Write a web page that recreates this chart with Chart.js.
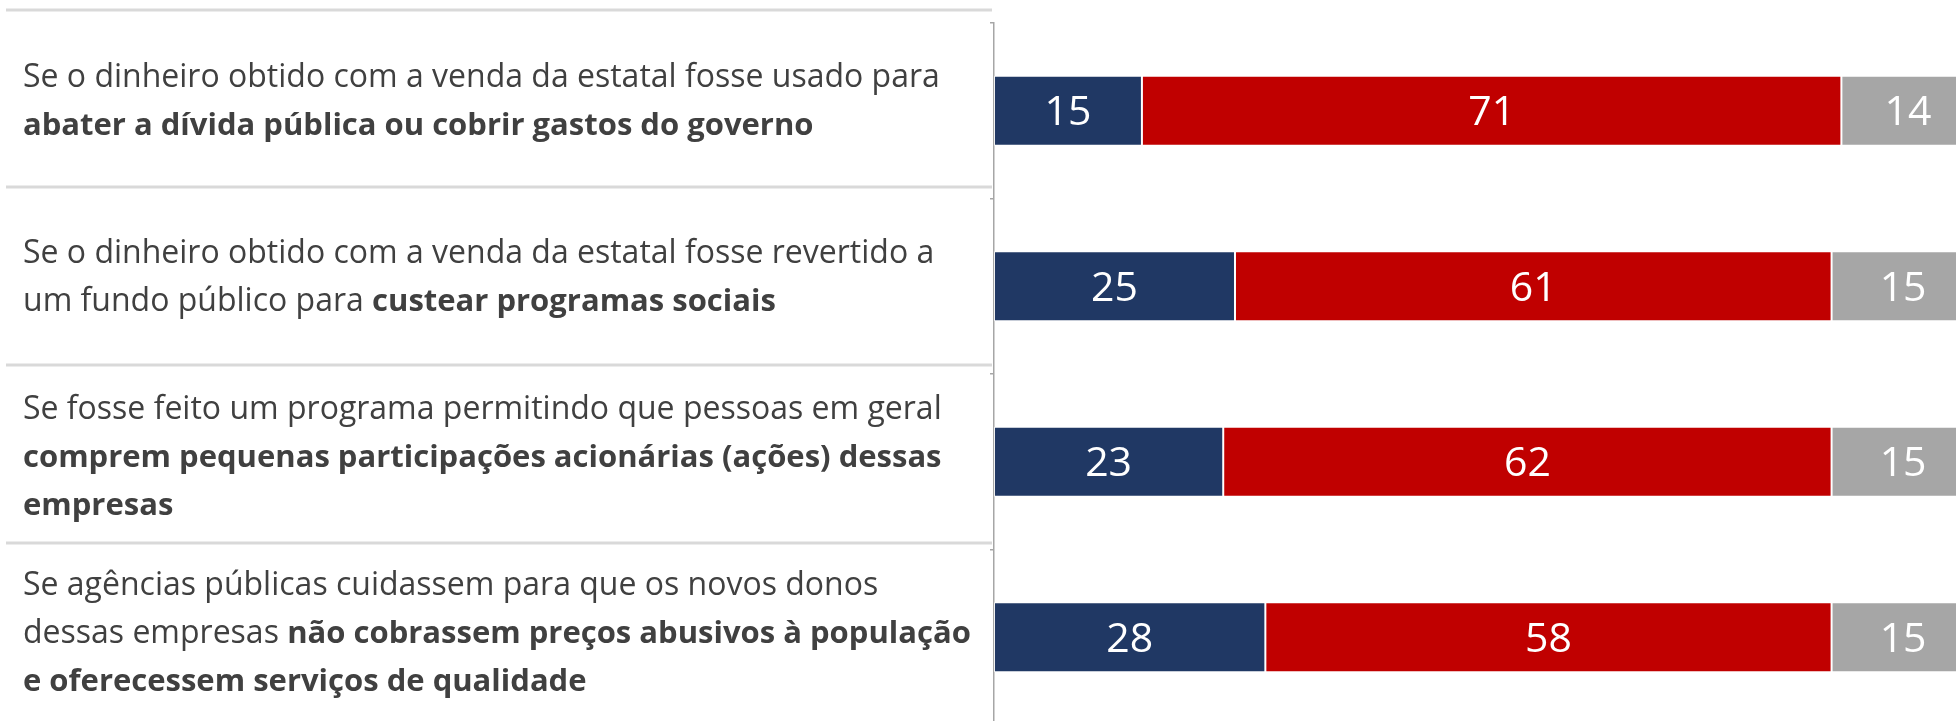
<!DOCTYPE html>
<html>
<head>
<meta charset="utf-8">
<script src="https://cdn.jsdelivr.net/npm/chart.js@4"></script>
<style>
  html, body { margin: 0; padding: 0; background: #fff; overflow: hidden; }
  #wrap { width: 1956px; height: 725px; position: relative; }
</style>
</head>
<body>
<div id="wrap"><canvas id="myChart"></canvas></div>
<script>
// QUESTIONS: each line is a list of [text, bold] pieces
const Questions = [
  [
    [['Se o dinheiro obtido com a venda da estatal fosse usado para', false]],
    [['abater a dívida pública ou cobrir gastos do governo', true]]
  ],
  [
    [['Se o dinheiro obtido com a venda da estatal fosse revertido a', false]],
    [['um fundo público para ', false], ['custear programas sociais', true]]
  ],
  [
    [['Se fosse feito um programa permitindo que pessoas em geral', false]],
    [['comprem pequenas participações acionárias (ações) dessas', true]],
    [['empresas', true]]
  ],
  [
    [['Se agências públicas cuidassem para que os novos donos', false]],
    [['dessas empresas ', false], ['não cobrassem preços abusivos à população', true]],
    [['e oferecessem serviços de qualidade', true]]
  ]
]

// SERIES (percent)
const Blue = [15.1, 24.6, 23.4, 27.7]
const Red = [71.4, 60.9, 62.1, 57.8]
const Gray = [13.6, 14.6, 14.6, 14.6]

const Labels = Questions.map(q => q.map(line => line.map(p => p[0]).join('')).join(' '))

const FONT = '"Open Sans", "Noto Sans", sans-serif'

// left side text + separator lines
const leftText = {
  id: 'leftText',
  afterDraw(chart) {
    const ctx = chart.ctx
    const sepY = [10, 187, 365, 543]
    const mids = [102, 278, 458, 634]
    const lineH = 48
    ctx.save()
    ctx.strokeStyle = '#d9d9d9'
    ctx.lineWidth = 3
    sepY.forEach(y => {
      ctx.beginPath()
      ctx.moveTo(6, y)
      ctx.lineTo(992, y)
      ctx.stroke()
    })
    ctx.fillStyle = '#404040'
    ctx.textBaseline = 'alphabetic'
    ctx.textAlign = 'left'
    Questions.forEach((q, i) => {
      const y0 = mids[i] - (q.length - 1) * lineH / 2
      q.forEach((line, j) => {
        let x = 23
        const y = y0 + j * lineH + 9
        line.forEach(([txt, bold]) => {
          ctx.font = bold ? 'bold 31px ' + FONT : '32px ' + FONT
          ctx.fillText(txt, x, y)
          x += ctx.measureText(txt).width
        })
      })
    })
    ctx.restore()
  }
}

// values inside the bars
const barLabels = {
  id: 'barLabels',
  afterDatasetsDraw(chart) {
    const ctx = chart.ctx
    ctx.save()
    ctx.fillStyle = '#ffffff'
    ctx.font = '41px ' + FONT
    ctx.textAlign = 'center'
    ctx.textBaseline = 'middle'
    chart.data.datasets.forEach((ds, di) => {
      const meta = chart.getDatasetMeta(di)
      meta.data.forEach((bar, i) => {
        const x = (bar.x + bar.base) / 2
        ctx.fillText(String(Math.round(ds.data[i])), x, bar.y + 3)
      })
    })
    ctx.restore()
  }
}

const ctx = document.getElementById('myChart')
new Chart(ctx, {
  type: 'bar',
  data: {
    labels: Labels,
    datasets: [
      { label: 'Blue', data: Blue, backgroundColor: '#203864' },
      { label: 'Red', data: Red, backgroundColor: '#c00000' },
      { label: 'Gray', data: Gray, backgroundColor: '#a6a6a6' }
    ].map(d => Object.assign(d, {
      borderColor: 'rgba(255,255,255,0.7)',
      borderWidth: 1,
      borderSkipped: false,
      categoryPercentage: 1,
      barPercentage: 0.4
    }))
  },
  options: {
    indexAxis: 'y',
    responsive: true,
    maintainAspectRatio: false,
    animation: false,
    layout: { padding: { left: 984, top: 23, right: 0, bottom: 0 } },
    plugins: {
      legend: { display: false },
      tooltip: { enabled: false }
    },
    scales: {
      x: {
        stacked: true,
        display: false,
        min: 0,
        max: 98.2
      },
      y: {
        stacked: true,
        offset: true,
        afterFit(scale) { scale.width = 10 },
        ticks: { display: false },
        grid: {
          offset: true,
          drawOnChartArea: false,
          drawTicks: true,
          tickLength: 4,
          color: '#a6a6a6',
          lineWidth: 1.5
        },
        border: { display: true, color: '#a6a6a6', width: 1.5 }
      }
    }
  },
  plugins: [leftText, barLabels]
})
</script>
</body>
</html>
